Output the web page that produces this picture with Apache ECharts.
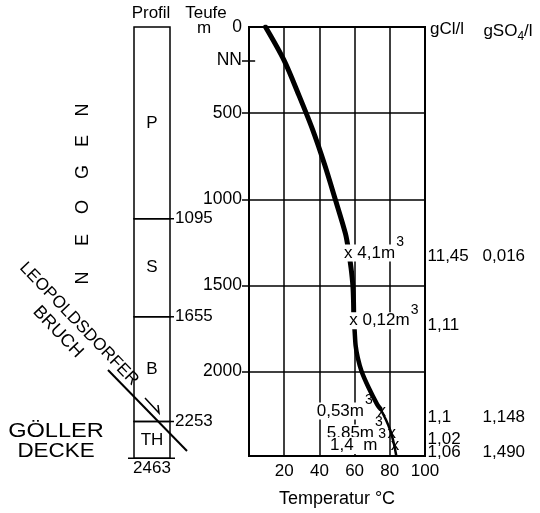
<!DOCTYPE html>
<html>
<head>
<meta charset="utf-8">
<style>
  html, body { margin: 0; padding: 0; background: #fff; }
  #chart { width: 540px; height: 513px; }
</style>
<script src="https://cdn.jsdelivr.net/npm/echarts@6/dist/echarts.min.js"></script>
</head>
<body>
<div id="chart"></div>
<script>
// temperature log, depth in m, temperature in °C
var upperDepth = [0, 195, 400, 600, 800, 1000, 1200, 1300, 1400, 1500, 1600, 1693]
var upperTemp = [9.4, 20, 28.5, 36.3, 43, 49, 54.8, 56.6, 58, 59, 59.4, 59.5]
var lowerDepth = [1693, 1760, 1850, 1920, 2000, 2090, 2190, 2217]
var lowerTemp = [59.5, 60, 60.6, 61.8, 64, 67.8, 72.8, 74.7]
var bottomDepth = [2217, 2280, 2345, 2417, 2484]
var bottomTemp = [74.7, 77.8, 80.4, 82.3, 83.6]

// water samples
var sampleDepth = [1300, 1693, 2217, 2345, 2417]
var sampleTemp = [56.6, 59.5, 74.7, 80.4, 82.3]
var sampleVolume = ['4,1', '0,12', '0,53', '5,85', '1,4  ']
var sampleCl = ['11,45', '1,11', '1,1', '1,02', '1,06']
var sampleSO4 = ['0,016', '', '1,148', '', '1,490']

// borehole profile
var layerName = ['P', 'S', 'B', 'TH']
var layerTop = [0, 1095, 1655, 2253]
var layerBottom = [1095, 1655, 2253, 2463]

var tempTicks = [20, 40, 60, 80]
var depthTicks = [500, 1000, 1500, 2000]
var depthLabels = [0, 195, 500, 1000, 1500, 2000]
var nnDepth = 195

var FONT = 'Liberation Sans'
var chart = echarts.init(document.getElementById('chart'), null, { renderer: 'canvas' })

function curve(depths, temps, width) {
  return {
    type: 'line',
    xAxisIndex: 0,
    yAxisIndex: 0,
    data: temps.map(function(t, i) { return [t, depths[i]] }),
    symbol: 'none',
    smooth: 0.3,
    z: 3,
    lineStyle: { color: '#000', width: width, cap: 'round' }
  }
}

var supRich = {
  t: { fontSize: 17, fontFamily: FONT, color: '#000', lineHeight: 20, backgroundColor: '#fff', padding: [0, 1] },
  x: { fontSize: 17, fontFamily: FONT, color: '#000', lineHeight: 20 },
  sup: { fontSize: 14, fontFamily: FONT, color: '#000', lineHeight: 14, padding: [0, 0, 22, 0] }
}

var sampleData = sampleTemp.map(function(t, i) {
  var right = i < 2
  return {
    value: [t, sampleDepth[i]],
    label: {
      show: true,
      position: right ? 'right' : 'left',
      distance: -6,
      offset: [0, 2],
      formatter: right
        ? '{t|x ' + sampleVolume[i] + 'm}{sup|3}'
        : '{t|' + sampleVolume[i] + 'm}{sup|3}{x| x}',
      rich: supRich
    }
  }
})

function sideColumn(values, xPos) {
  return {
    type: 'scatter',
    xAxisIndex: 2,
    yAxisIndex: 2,
    symbolSize: 1,
    itemStyle: { color: 'rgba(0,0,0,0)', opacity: 1 },
    data: sampleDepth.map(function(d) { return [xPos, d] }),
    label: {
      show: true,
      position: 'right',
      distance: 0,
      offset: [0, 2],
      fontSize: 17,
      color: '#000',
      formatter: function(p) { return values[p.dataIndex] }
    }
  }
}

var gridLines = tempTicks.map(function(t) { return { xAxis: t } })
  .concat(depthTicks.map(function(d) { return { yAxis: d } }))
  .concat([[{ coord: [0, nnDepth] }, { coord: [3.5, nnDepth] }]])

var option = {
  animation: false,
  textStyle: { fontFamily: FONT, color: '#000' },
  grid: [
    { left: 249, top: 27, width: 176, height: 436, show: true, borderColor: '#000', borderWidth: 2 },
    { left: 134, top: 27, width: 36, height: 436 },
    { left: 427, top: 27, width: 110, height: 436 }
  ],
  xAxis: [
    {
      gridIndex: 0, type: 'value', min: 0, max: 100, interval: 20,
      axisLine: { lineStyle: { color: '#000', width: 2 } },
      axisTick: { show: false },
      splitLine: { show: false },
      axisLabel: {
        fontSize: 17, color: '#000', margin: 7,
        formatter: function(v) { return v === 0 ? '' : v }
      },
      name: 'Temperatur °C',
      nameLocation: 'middle',
      nameGap: 34,
      nameTextStyle: { fontSize: 18, color: '#000' }
    },
    { gridIndex: 1, type: 'value', min: 0, max: 1, show: false },
    { gridIndex: 2, type: 'value', min: 0, max: 100, show: false }
  ],
  yAxis: [
    {
      gridIndex: 0, type: 'value', inverse: true, min: 0, max: 2490, interval: 500,
      axisLine: { lineStyle: { color: '#000', width: 2 } },
      axisTick: { show: true, length: 7, customValues: [nnDepth].concat(depthTicks), lineStyle: { color: '#000', width: 1.5 } },
      splitLine: { show: false },
      axisLabel: {
        fontSize: 17.5, color: '#000', margin: 7,
        customValues: depthLabels,
        formatter: function(v) { return v === nnDepth ? 'NN' : v }
      }
    },
    { gridIndex: 1, type: 'value', inverse: true, min: 0, max: 2490, show: false },
    { gridIndex: 2, type: 'value', inverse: true, min: 0, max: 2490, show: false }
  ],
  series: [
    {
      type: 'line',
      xAxisIndex: 0,
      yAxisIndex: 0,
      data: [],
      z: 1,
      silent: true,
      markLine: {
        silent: true,
        symbol: 'none',
        label: { show: false },
        lineStyle: { color: '#000', width: 1.5, type: 'solid' },
        emphasis: { disabled: true },
        data: gridLines
      }
    },
    curve(upperDepth, upperTemp, 5),
    curve(lowerDepth, lowerTemp, 4.5),
    curve(bottomDepth, bottomTemp, 2.5),
    {
      type: 'scatter',
      xAxisIndex: 0,
      yAxisIndex: 0,
      symbolSize: 1,
      itemStyle: { color: 'rgba(0,0,0,0)', opacity: 1 },
      z: 5,
      data: sampleData
    },
    {
      type: 'custom',
      xAxisIndex: 1,
      yAxisIndex: 1,
      data: layerTop.map(function(t, i) { return [t, layerBottom[i]] }),
      renderItem: function(params, api) {
        var i = params.dataIndex
        var p0 = api.coord([0, api.value(0)])
        var p1 = api.coord([1, api.value(1)])
        var w = p1[0] - p0[0]
        var h = p1[1] - p0[1]
        var txt = { font: '17px ' + FONT, fill: '#000' }
        var children = [
          { type: 'rect', shape: { x: p0[0], y: p0[1], width: w, height: h }, style: { fill: 'none', stroke: '#000', lineWidth: 1.5 } },
          { type: 'text', x: p0[0] + w / 2, y: p0[1] + h / 2, style: Object.assign({ text: layerName[i], align: 'center', verticalAlign: 'middle' }, txt) }
        ]
        if (i < layerName.length - 1) {
          children.push({ type: 'line', shape: { x1: p1[0], y1: p1[1], x2: p1[0] + 4, y2: p1[1] }, style: { stroke: '#000', lineWidth: 1.5 } })
          children.push({ type: 'text', x: p1[0] + 5, y: p1[1], style: Object.assign({ text: String(api.value(1)), align: 'left', verticalAlign: 'middle' }, txt) })
        } else {
          children.push({ type: 'line', shape: { x1: p0[0] - 6, y1: p1[1], x2: p1[0] + 5, y2: p1[1] }, style: { stroke: '#000', lineWidth: 1.5 } })
          children.push({ type: 'text', x: p0[0] + w / 2, y: p1[1] + 2, style: Object.assign({ text: String(api.value(1)), align: 'center', verticalAlign: 'top' }, txt) })
        }
        return { type: 'group', children: children }
      }
    },
    sideColumn(sampleCl, 0),
    sideColumn(sampleSO4, 50)
  ],
  graphic: [
    { type: 'text', x: 151, y: 13, style: { text: 'Profil', font: '17px ' + FONT, fill: '#000', align: 'center', verticalAlign: 'middle' } },
    { type: 'text', x: 206, y: 13, style: { text: 'Teufe', font: '17px ' + FONT, fill: '#000', align: 'center', verticalAlign: 'middle' } },
    { type: 'text', x: 204, y: 28, style: { text: 'm', font: '17px ' + FONT, fill: '#000', align: 'center', verticalAlign: 'middle' } },
    { type: 'text', x: 447, y: 29, style: { text: 'gCl/l', font: '17px ' + FONT, fill: '#000', align: 'center', verticalAlign: 'middle' } },
    {
      type: 'text', x: 508, y: 33,
      style: {
        text: '{a|gSO}{b|4}{a|/l}', align: 'center', verticalAlign: 'middle',
        rich: {
          a: { fontSize: 17, fontFamily: FONT, fill: '#000', lineHeight: 20, verticalAlign: 'top' },
          b: { fontSize: 12, fontFamily: FONT, fill: '#000', lineHeight: 12, verticalAlign: 'bottom' }
        }
      }
    },
    { type: 'text', x: 83, y: 110, rotation: Math.PI / 2, style: { text: 'N', font: '18px ' + FONT, fill: '#000', align: 'center', verticalAlign: 'middle' } },
    { type: 'text', x: 83, y: 141, rotation: Math.PI / 2, style: { text: 'E', font: '18px ' + FONT, fill: '#000', align: 'center', verticalAlign: 'middle' } },
    { type: 'text', x: 83, y: 172, rotation: Math.PI / 2, style: { text: 'G', font: '18px ' + FONT, fill: '#000', align: 'center', verticalAlign: 'middle' } },
    { type: 'text', x: 83, y: 207, rotation: Math.PI / 2, style: { text: 'O', font: '18px ' + FONT, fill: '#000', align: 'center', verticalAlign: 'middle' } },
    { type: 'text', x: 83, y: 240, rotation: Math.PI / 2, style: { text: 'E', font: '18px ' + FONT, fill: '#000', align: 'center', verticalAlign: 'middle' } },
    { type: 'text', x: 83, y: 278, rotation: Math.PI / 2, style: { text: 'N', font: '18px ' + FONT, fill: '#000', align: 'center', verticalAlign: 'middle' } },
    { type: 'text', x: 79, y: 324, rotation: -0.806, style: { text: 'LEOPOLDSDORFER', font: '17px ' + FONT, fill: '#000', align: 'center', verticalAlign: 'middle' } },
    { type: 'text', x: 58, y: 332, rotation: -0.806, style: { text: 'BRUCH', font: '18px ' + FONT, fill: '#000', align: 'center', verticalAlign: 'middle' } },
    { type: 'text', x: 56, y: 431, scaleX: 1.18, style: { text: 'GÖLLER', font: '20px ' + FONT, fill: '#000', align: 'center', verticalAlign: 'middle' } },
    { type: 'text', x: 56, y: 451, scaleX: 1.12, style: { text: 'DECKE', font: '20px ' + FONT, fill: '#000', align: 'center', verticalAlign: 'middle' } },
    { type: 'line', shape: { x1: 108, y1: 370, x2: 187, y2: 451 }, style: { stroke: '#000', lineWidth: 2 } },
    { type: 'polyline', shape: { points: [[145, 398], [159, 413], [158, 405]] }, style: { stroke: '#000', lineWidth: 1.5, fill: 'none' } }
  ]
}

chart.setOption(option)
</script>
</body>
</html>
